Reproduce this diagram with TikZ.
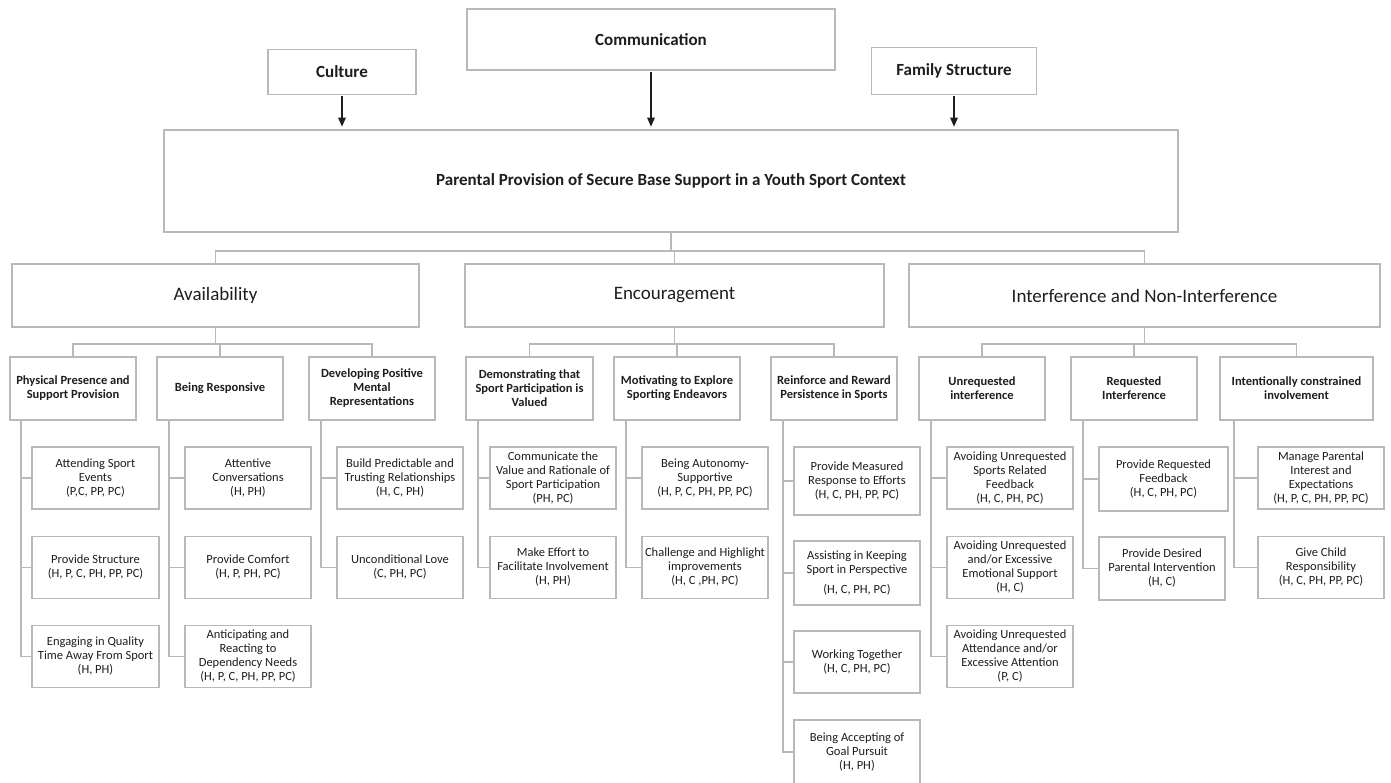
\documentclass[tikz,border=0pt]{standalone}
\usepackage{fontspec}
\setmainfont{Carlito}
\usetikzlibrary{arrows.meta,positioning}
\definecolor{boxgray}{RGB}{185,185,185}
\definecolor{inkgray}{RGB}{30,30,30}

\begin{document}
\begin{tikzpicture}[x=1pt,y=-1pt,
  box/.style={draw=boxgray,line width=1.6pt,fill=white,align=center,text=inkgray,inner sep=2pt},
  context/.style={box,font=\bfseries\fontsize{17}{20}\selectfont},
  factor/.style={box,minimum height=63pt,font=\fontsize{19}{23}\selectfont},
  theme/.style={box,minimum width=126pt,minimum height=63pt,font=\bfseries\fontsize{12.5}{14}\selectfont},
  item/.style={box,minimum width=126pt,minimum height=62pt,font=\fontsize{12.5}{14}\selectfont},
  link/.style={draw=boxgray,line width=1.6pt},
  influence/.style={-{Triangle[length=9pt,width=7.5pt]},line width=1.3pt,draw=inkgray,shorten >=2.5pt,shorten <=1pt}]
  \useasboundingbox (0,0) rectangle (1391,782);
  \clip (0,0) rectangle (1391,782);

  % context
  \node[context,minimum width=368pt,minimum height=61pt] (comm) at (651,39.7) {Communication};
  \node[context,minimum width=148pt,minimum height=45pt] (culture) at (342,72) {Culture};
  \node[context,minimum width=165pt,minimum height=47pt] (family) at (954,71) {Family Structure};
  \node[context,minimum width=1014pt,minimum height=102pt] (secbase) at (671,181)
    {Parental Provision of Secure Base Support in a Youth Sport Context};
  \draw[influence] (culture.south) -- (culture.south |- secbase.north);
  \draw[influence] (comm.south) -- (comm.south |- secbase.north);
  \draw[influence] (family.south) -- (family.south |- secbase.north);

  % factors
  \node[factor,minimum width=407pt] (avail) at (215.5,295.5) {Availability};
  \node[factor,minimum width=419pt] (encour) at (674.5,295.5) {Encouragement};
  \node[factor,minimum width=471pt] (interf) at (1144.5,295.5) {Interference and Non-Interference};
  \coordinate (bar) at (0,251);
  \draw[link] (secbase.south) -- (secbase.south |- bar);
  \draw[link] (avail.north) |- (interf.north |- bar) -- (interf.north);
  \draw[link] (encour.north) -- (encour.north |- bar);

  % themes
  \node[theme] (presence) at (73,388.5) {Physical Presence and\\Support Provision};
  \node[theme] (respond) at (220,388.5) {Being Responsive};
  \node[theme] (mental) at (372,388.5) {Developing Positive\\Mental\\Representations};
  \node[theme,minimum width=127pt] (valued) at (529.5,388.5) {Demonstrating that\\Sport Participation is\\Valued};
  \node[theme] (explore) at (677,388.5) {Motivating to Explore\\Sporting Endeavors};
  \node[theme] (reward) at (834,388.5) {Reinforce and Reward\\Persistence in Sports};
  \node[theme] (unreq) at (982,388.5) {Unrequested\\interference};
  \node[theme] (req) at (1134,388.5) {Requested\\Interference};
  \node[theme,minimum width=153pt] (constr) at (1296.5,388.5) {Intentionally constrained\\involvement};
  \coordinate (subbar) at (0,344);
  \draw[link] (avail.south) -- (avail.south |- subbar);
  \draw[link] (presence.north) |- (mental.north |- subbar) -- (mental.north);
  \draw[link] (respond.north) -- (respond.north |- subbar);
  \draw[link] (encour.south) -- (encour.south |- subbar);
  \draw[link] (valued.north) |- (reward.north |- subbar) -- (reward.north);
  \draw[link] (explore.north) -- (explore.north |- subbar);
  \draw[link] (interf.south) -- (interf.south |- subbar);
  \draw[link] (unreq.north) |- (constr.north |- subbar) -- (constr.north);
  \draw[link] (req.north) -- (req.north |- subbar);

  % items: availability
  \node[item,minimum width=127pt] (attend) at (95.5,478) {Attending Sport\\Events\\(P,C, PP, PC)};
  \node[item,minimum width=127pt] (structure) at (95.5,567.5) {Provide Structure\\(H, P, C, PH, PP, PC)};
  \node[item,minimum width=127pt] (quality) at (95.5,656.5) {Engaging in Quality\\Time Away From Sport\\(H, PH)};
  \node[item] (convo) at (248,478) {Attentive\\Conversations\\(H, PH)};
  \node[item] (comfort) at (248,567.5) {Provide Comfort\\(H, P, PH, PC)};
  \node[item] (depend) at (248,656.5) {Anticipating and\\Reacting to\\Dependency Needs\\(H, P, C, PH, PP, PC)};
  \node[item] (trust) at (400,478) {Build Predictable and\\Trusting Relationships\\(H, C, PH)};
  \node[item] (love) at (400,567.5) {Unconditional Love\\(C, PH, PC)};

  % items: encouragement
  \node[item] (rationale) at (553,478) {Communicate the\\Value and Rationale of\\Sport Participation\\(PH, PC)};
  \node[item] (facil) at (553,567.5) {Make Effort to\\Facilitate Involvement\\(H, PH)};
  \node[item] (autonomy) at (705,478) {Being Autonomy-\\Supportive\\(H, P, C, PH, PP, PC)};
  \node[item] (challenge) at (705,567.5) {Challenge and Highlight\\improvements\\(H, C ,PH, PC)};
  \node[item,minimum height=68pt] (measured) at (857,481) {Provide Measured\\Response to Efforts\\(H, C, PH, PP, PC)};
  \node[item,minimum height=64pt] (perspective) at (857,573) {Assisting in Keeping\\Sport in Perspective\\[6pt](H, C, PH, PC)};
  \node[item] (together) at (857,662) {Working Together\\(H, C, PH, PC)};
  \node[item,minimum height=64pt] (goal) at (857,752) {Being Accepting of\\Goal Pursuit\\(H, PH)};

  % items: interference
  \node[item] (avfeed) at (1010,478) {Avoiding Unrequested\\Sports Related\\Feedback\\(H, C, PH, PC)};
  \node[item] (avemot) at (1010,567.5) {Avoiding Unrequested\\and/or Excessive\\Emotional Support\\(H, C)};
  \node[item] (avattend) at (1010,656.5) {Avoiding Unrequested\\Attendance and/or\\Excessive Attention\\(P, C)};
  \node[item,minimum width=129pt,minimum height=64pt] (reqfeed) at (1163.5,479) {Provide Requested\\Feedback\\(H, C, PH, PC)};
  \node[item,minimum height=63pt] (intervene) at (1162,568.5) {Provide Desired\\Parental Intervention\\(H, C)};
  \node[item] (manage) at (1321,478) {Manage Parental\\Interest and\\Expectations\\(H, P, C, PH, PP, PC)};
  \node[item] (responsib) at (1321,567.5) {Give Child\\Responsibility\\(H, C, PH, PP, PC)};

  % ticks
  \foreach \i in {attend,structure,quality}
    \draw[link] ([xshift=12pt]presence.south west) |- (\i.west);
  \foreach \i in {convo,comfort,depend}
    \draw[link] ([xshift=13pt]respond.south west) |- (\i.west);
  \foreach \i in {trust,love}
    \draw[link] ([xshift=13pt]mental.south west) |- (\i.west);
  \foreach \i in {rationale,facil}
    \draw[link] ([xshift=13pt]valued.south west) |- (\i.west);
  \foreach \i in {autonomy,challenge}
    \draw[link] ([xshift=13pt]explore.south west) |- (\i.west);
  \foreach \i in {measured,perspective,together,goal}
    \draw[link] ([xshift=13pt]reward.south west) |- (\i.west);
  \foreach \i in {avfeed,avemot,avattend}
    \draw[link] ([xshift=13pt]unreq.south west) |- (\i.west);
  \foreach \i in {reqfeed,intervene}
    \draw[link] ([xshift=13pt]req.south west) |- (\i.west);
  \foreach \i in {manage,responsib}
    \draw[link] ([xshift=15pt]constr.south west) |- (\i.west);
\end{tikzpicture}
\end{document}
